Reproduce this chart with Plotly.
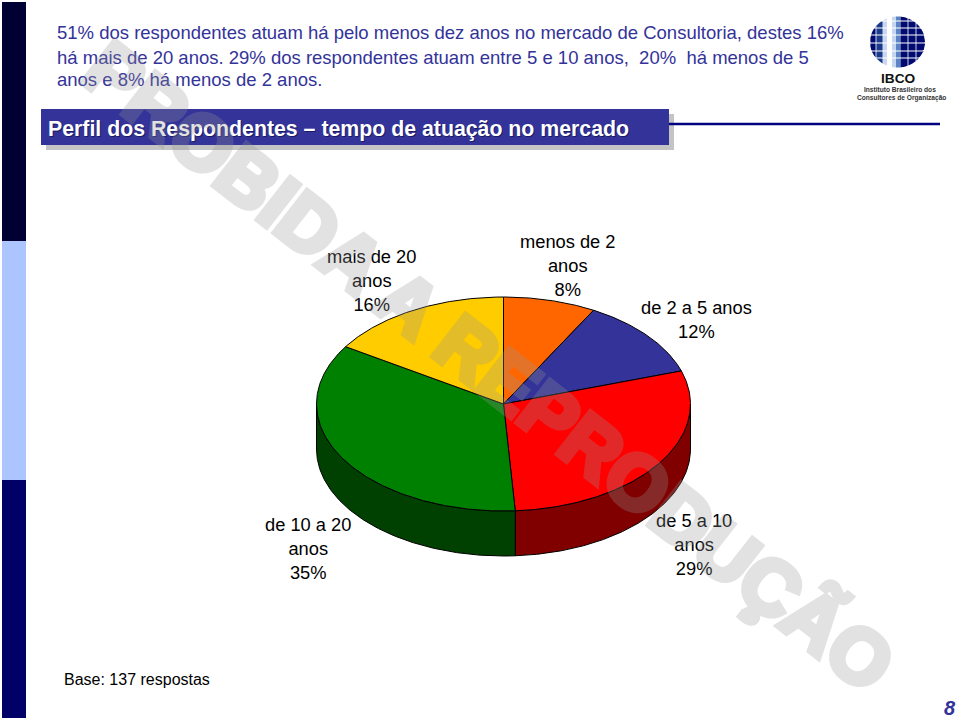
import numpy as np
import plotly.graph_objects as go

# ---- data ----
categories = ["menos de 2 anos", "de 2 a 5 anos", "de 5 a 10 anos", "de 10 a 20 anos", "mais de 20 anos"]
percent = [8, 12, 29, 35, 16]
top_colors = ["#FF6600", "#333399", "#FF0000", "#008000", "#FFCC00"]
wall_colors = ["#803300", "#1a1a4d", "#800000", "#004000", "#806600"]
label_lines = [["menos de 2", "anos"], ["de 2 a 5 anos"], ["de 5 a 10", "anos"], ["de 10 a 20", "anos"], ["mais de 20", "anos"]]
label_x = [568, 696, 694, 308, 371]
label_y = [265.5, 319, 544.5, 548, 280.5]

body_lines = [
    "51% dos respondentes atuam há pelo menos dez anos no mercado de Consultoria, destes 16%",
    "há mais de 20 anos. 29% dos respondentes atuam entre 5 e 10 anos,  20%  há menos de 5",
    "anos e 8% há menos de 2 anos.",
]
body_y = [32, 57, 79]
title_text = "Perfil dos Respondentes – tempo de atuação no mercado"
base_text = "Base: 137 respostas"
page_number = "8"
watermark = "PROBIDA A REPRODUÇÃO"

CX, CY, RX, RY, DEPTH = 503.5, 404, 187, 107, 45
FONT = "Liberation Sans"

fig = go.Figure()


def arc(a0, a1, dy=0.0):
    t = np.radians(np.linspace(a0, a1, max(2, int(abs(a1 - a0)) * 2)))
    return CX + RX * np.sin(t), CY - RY * np.cos(t) + dy


edges = np.concatenate([[0], np.cumsum(percent)]) / sum(percent) * 360

# side walls (front half of the ellipse only)
for i, c in enumerate(categories):
    a0, a1 = max(edges[i], 90), min(edges[i + 1], 270)
    if a1 <= a0:
        continue
    xt, yt = arc(a0, a1)
    xb, yb = arc(a0, a1, DEPTH)
    fig.add_trace(go.Scatter(
        x=np.r_[xt, xb[::-1], xt[0]], y=np.r_[yt, yb[::-1], yt[0]], mode="lines", fill="toself",
        fillcolor=wall_colors[i], line=dict(color="black", width=1), hoverinfo="skip", showlegend=False))

# top face
for i, c in enumerate(categories):
    xa, ya = arc(edges[i], edges[i + 1])
    fig.add_trace(go.Scatter(
        x=np.r_[CX, xa, CX], y=np.r_[CY, ya, CY], mode="lines", fill="toself",
        fillcolor=top_colors[i], line=dict(color="black", width=1), name=c,
        text=f"{c}: {percent[i]}%", hoverinfo="text", showlegend=False))

shapes = []


def rect(x0, y0, x1, y1, color):
    shapes.append(dict(type="rect", xref="x", yref="y", x0=x0, y0=y0, x1=x1, y1=y1,
                       fillcolor=color, line=dict(width=0), layer="below"))


# left band
rect(2, 2, 26, 241, "#000033")
rect(2, 241, 26, 480, "#ADC5FF")
rect(2, 480, 26, 718, "#000066")
# title bar
rect(46, 114, 674, 150, "#C4C4C4")
rect(41, 109, 669, 145, "#333399")
shapes.append(dict(type="line", xref="x", yref="y", x0=669, x1=940, y0=124, y1=124,
                   line=dict(color="#000080", width=2.5), layer="below"))

# logo globe
gx, gy, grx, gry = 897.5, 42, 27.5, 25.5
col_edges = [870, 876, 883, 887, 892, 896, 900, 908, 916, 925.5]
col_colors = ["#000A70", "#1A3A8C", "#C9D8EE", "#FFFFFF", "#C5D6F0", "#5C84C4", "#000A70", "#000A70", "#000A70"]
row_edges = [16, 21, 28, 35, 43, 51, 58, 68]
for j in range(len(col_edges) - 1):
    for k in range(len(row_edges) - 1):
        pad = 0.0 if j in (2, 3, 4, 5) else 0.4
        xs = np.linspace(col_edges[j] + pad, col_edges[j + 1] - pad, 8)
        h = gry * np.sqrt(np.clip(1 - ((xs - gx) / grx) ** 2, 0, 1))
        top = np.maximum(gy - h, row_edges[k] + 0.5)
        bot = np.minimum(gy + h, row_edges[k + 1] - 0.5)
        if np.all(bot <= top):
            continue
        bot = np.maximum(bot, top)
        pts = list(zip(xs, top)) + list(zip(xs[::-1], bot[::-1]))
        path = "M" + "L".join(f"{a:.1f},{b:.1f}" for a, b in pts) + "Z"
        shapes.append(dict(type="path", xref="x", yref="y", path=path, fillcolor=col_colors[j],
                           line=dict(width=0), layer="below"))

ann = []


def text(x, y, s, size, color="black", anchor="center", bold=False, italic=False, angle=0, opacity=1):
    if bold:
        s = f"<b>{s}</b>"
    if italic:
        s = f"<i>{s}</i>"
    ann.append(dict(x=x, y=y, xref="x", yref="y", text=s, showarrow=False, xanchor=anchor, yanchor="middle",
                    font=dict(family=FONT, size=size, color=color), textangle=angle, opacity=opacity,
                    borderpad=0, borderwidth=0))


for y, line in zip(body_y, body_lines):
    text(57, y, line, 18.5, "#333399", "left")

text(49, 130, title_text, 21.3, "#1A1A60", "left", bold=True)
text(48, 129, title_text, 21.3, "#FFFFFF", "left", bold=True)

for lx, ly, lines, p in zip(label_x, label_y, label_lines, percent):
    text(lx, ly, "<br>".join(lines + [f"{p}%"]), 18.3)

text(64, 679, base_text, 16, "black", "left")
text(950, 708, page_number, 20, "#333399", bold=True, italic=True)

text(898, 78, "IBCO", 13.7, "#111111", bold=True)
text(900, 89.5, "Instituto Brasileiro dos", 6.6, "#333333", bold=True)
text(901, 97.5, "Consultores de Organização", 6.6, "#333333", bold=True)

text(489, 366, watermark, 77, "rgb(150,150,150)", bold=True, angle=38, opacity=0.27)

fig.update_layout(
    width=960, height=720, margin=dict(l=0, r=0, t=0, b=0), paper_bgcolor="white", plot_bgcolor="white",
    xaxis=dict(range=[0, 960], visible=False, fixedrange=True),
    yaxis=dict(range=[720, 0], visible=False, fixedrange=True),
    shapes=shapes, annotations=ann, showlegend=False,
)
# heavier watermark lettering, as on the slide
post = """document.body.style.margin='0';document.body.style.overflow='hidden';
var t=document.querySelectorAll('.annotation-text');var w=t[t.length-1];
w.style.stroke='rgb(150,150,150)';w.style.strokeWidth='6px';w.style.strokeLinejoin='miter';"""
fig.write_html("out.html", config={"displayModeBar": False}, post_script=post)
